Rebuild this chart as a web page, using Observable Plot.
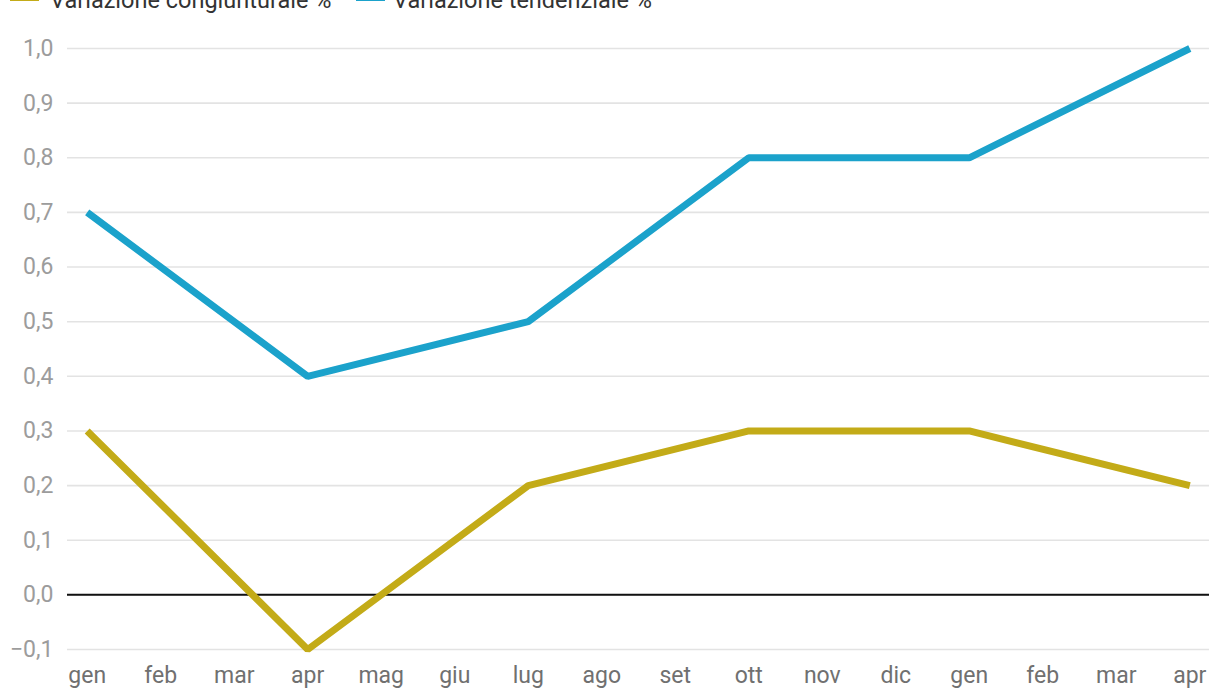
<!DOCTYPE html>
<html>
<head>
<meta charset="utf-8">
<script src="https://cdn.jsdelivr.net/npm/d3@7"></script>
<script src="https://cdn.jsdelivr.net/npm/@observablehq/plot@0.6"></script>
<style>
  html, body { margin: 0; padding: 0; background: #fff; overflow: hidden; }
  body { font-family: Roboto, "Noto Sans", sans-serif; position: relative; width: 1217px; height: 694px; }
  #legend { position: absolute; top: -11px; left: 0; font-size: 23.5px; color: #333; line-height: 23px; white-space: nowrap; }
  .sw { position: absolute; top: 7px; width: 29px; height: 5px; }
  .lbl { position: absolute; top: 0; }
  #chart { position: absolute; top: 0; left: 0; }
</style>
</head>
<body>
<div id="legend"></div>
<div id="chart"></div>
<script>
const months = ["gen","feb","mar","apr","mag","giu","lug","ago","set","ott","nov","dic","gen","feb","mar","apr"];
const pointIndex = [0, 3, 6, 9, 12, 15];
const congiunturale = [0.3, -0.1, 0.2, 0.3, 0.3, 0.2];
const tendenziale = [0.7, 0.4, 0.5, 0.8, 0.8, 1.0];
const seriesNames = ["Variazione congiunturale %", "Variazione tendenziale %"];
const seriesColors = ["#c3ab18", "#1ba2cb"];
const yTicks = [-0.1, 0, 0.1, 0.2, 0.3, 0.4, 0.5, 0.6, 0.7, 0.8, 0.9, 1.0];

// legend
const legend = document.getElementById("legend");
const legendPos = [[10, 50], [356, 393]];
seriesNames.forEach((n, i) => {
  const sw = document.createElement("div");
  sw.className = "sw";
  sw.style.left = legendPos[i][0] + "px";
  sw.style.background = seriesColors[i];
  legend.appendChild(sw);
  const t = document.createElement("div");
  t.className = "lbl";
  t.style.left = legendPos[i][1] + "px";
  t.textContent = n;
  legend.appendChild(t);
});

const data = [];
pointIndex.forEach((idx, k) => {
  data.push({x: idx, y: congiunturale[k], s: seriesNames[0]});
});
pointIndex.forEach((idx, k) => {
  data.push({x: idx, y: tendenziale[k], s: seriesNames[1]});
});

const fmt = d => d.toFixed(1).replace(".", ",").replace("-", "\u2212");

const chart = Plot.plot({
  width: 1217,
  height: 694,
  marginLeft: 67,
  marginRight: 8,
  marginTop: 48,
  marginBottom: 45,
  style: {fontFamily: "Roboto, sans-serif", fontSize: "23px", background: "transparent"},
  x: {type: "point", domain: d3.range(months.length), padding: 0.268, round: false},
  y: {domain: [-0.1, 1.0]},
  color: {domain: seriesNames, range: seriesColors},
  marks: [
    Plot.ruleY(yTicks, {stroke: "#e3e3e3", strokeWidth: 1.6}),
    Plot.axisY({ticks: yTicks, tickFormat: fmt, tickSize: 0, tickPadding: 14, label: null, color: "#9c9c9c", fontSize: 23}),
    Plot.axisX({ticks: d3.range(months.length), tickFormat: i => months[i], tickSize: 0, tickPadding: 17, label: null, color: "#707070", fontSize: 23}),
    Plot.ruleY([0], {stroke: "#111", strokeWidth: 2}),
    Plot.line(data, {x: "x", y: "y", z: "s", stroke: "s", strokeWidth: 7, strokeLinejoin: "miter", strokeLinecap: "butt"})
  ]
});
document.getElementById("chart").appendChild(chart);
</script>
</body>
</html>
